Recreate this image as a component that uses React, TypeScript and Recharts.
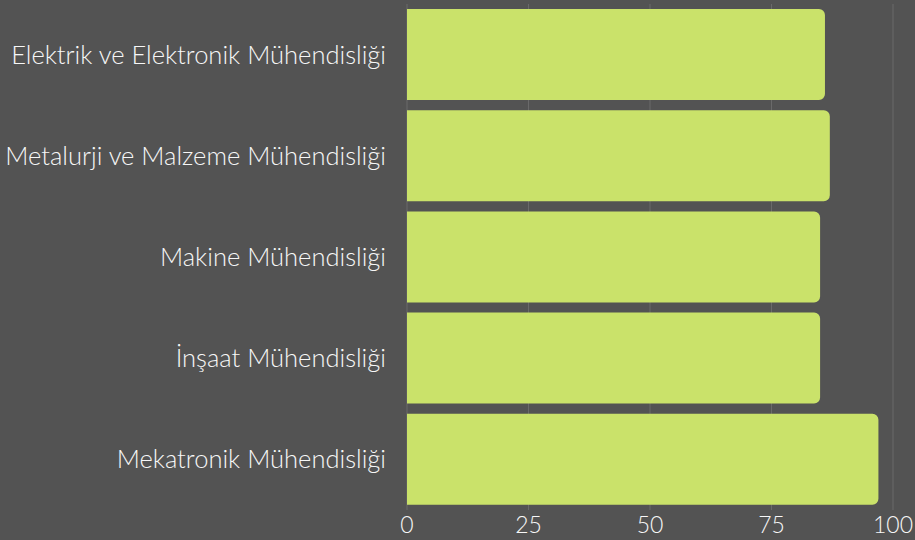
import { Bar, BarChart, CartesianGrid, XAxis, YAxis } from "recharts";

const departments = [
  "Elektrik ve Elektronik Mühendisliği",
  "Metalurji ve Malzeme Mühendisliği",
  "Makine Mühendisliği",
  "İnşaat Mühendisliği",
  "Mekatronik Mühendisliği",
];
const scores = [86, 87, 85, 85, 97];
const xTicks = [0, 25, 50, 75, 100];

const data = departments.map((name, i) => ({ name, score: scores[i] }));

const textColor = "#f7f7f7";

export default function App() {
  return (
    <div
      style={{
        position: "absolute",
        left: 0,
        top: 0,
        width: 915,
        height: 540,
        background: "#535353",
        fontFamily: "Lato, sans-serif",
      }}
    >
      <BarChart
        width={915}
        height={540}
        data={data}
        layout="vertical"
        margin={{ top: 4, right: 22, bottom: 0, left: 0 }}
        barCategoryGap={5}
      >
        <CartesianGrid horizontal={false} stroke="#6a6a6a" />
        <XAxis
          type="number"
          domain={[0, 100]}
          ticks={xTicks}
          height={30}
          tickLine={false}
          axisLine={false}
          tickMargin={1}
          tick={{ fontSize: 23, fill: textColor, fontWeight: 300 }}
        />
        <YAxis
          type="category"
          dataKey="name"
          width={407}
          tickLine={false}
          axisLine={false}
          tickMargin={15}
          tick={{ fontSize: 25.5, fill: textColor, fontWeight: 300 }}
        />
        <Bar
          dataKey="score"
          fill="#cae26a"
          radius={[0, 6, 6, 0]}
          isAnimationActive={false}
        />
      </BarChart>
    </div>
  );
}
